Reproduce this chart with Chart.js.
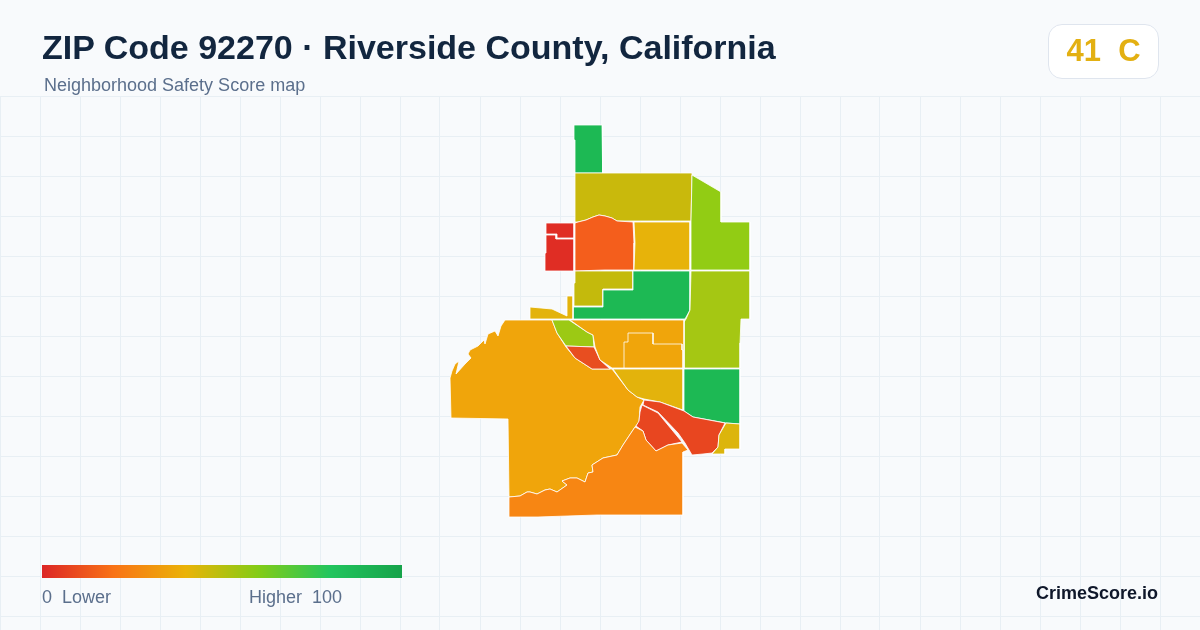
<!DOCTYPE html>
<html>
<head>
<meta charset="utf-8">
<script src="https://cdn.jsdelivr.net/npm/chart.js@4"></script>
<style>
  html, body { margin: 0; padding: 0; background: #f8fafc; }
  body { width: 1200px; height: 630px; position: relative; overflow: hidden; font-family: "Liberation Sans", Arial, sans-serif; }
  canvas { position: absolute; left: 0; top: 0; }
  .txt { position: absolute; white-space: pre; line-height: 1; }
  #title { left: 42px; top: 30px; font-size: 34px; font-weight: 700; color: #12263f; }
  #sub { left: 44px; top: 76px; font-size: 18px; color: #5b6f8c; }
  #badge { position: absolute; left: 1048px; top: 24px; width: 109px; height: 53px; background: #fff; border: 1px solid #dfe5ee; border-radius: 14px; }
  #score { left: 1048px; width: 111px; top: 35px; text-align: center; font-size: 31px; font-weight: 700; color: #e3b012; }
  #bar { position: absolute; left: 42px; top: 565px; width: 360px; height: 13px; background: linear-gradient(90deg, #dc2626 0%, #f97316 20%, #eab308 40%, #84cc16 60%, #22c55e 80%, #16a34a 100%); }
  #lo { left: 42px; top: 588px; font-size: 18px; color: #5b6f8c; }
  #hi { left: 249px; top: 588px; font-size: 18px; color: #5b6f8c; }
  #brand { right: 42px; top: 584px; font-size: 18px; font-weight: 700; color: #0f172a; }
</style>
</head>
<body>
<canvas id="map" width="1200" height="630"></canvas>
<div class="txt" id="title">ZIP Code 92270 · Riverside County, California</div>
<div class="txt" id="sub">Neighborhood Safety Score map</div>
<div id="badge"></div>
<div class="txt" id="score">41  C</div>
<div id="bar"></div>
<div class="txt" id="lo">0  Lower</div>
<div class="txt" id="hi">Higher  100</div>
<div class="txt" id="brand">CrimeScore.io</div>
<script>
  const gridCols = [0,40,80,120,160,200,240,280,320,360,400,440,480,520,560,600,640,680,720,760,800,840,880,920,960,1000,1040,1080,1120,1160,1200];
  const gridRows = [96,136,176,216,256,296,336,376,416,456,496,536,576,616];

  // tract outlines
  const northStrip = [[574,125],[602,125],[602,138],[603,138],[603,173],[575,173],[575,140],[574,140]];
  const northBlock = [[575,173],[633,173],[692,173],[691,221],[617,221],[612,218],[605,216],[599,215],[593,217],[586,220],[578,222],[575,222]];
  const eastUpper = [[692,175],[721,192],[721,222],[750,222],[750,270],[691,270],[691,221]];
  const westTop = [[546,223],[574,223],[574,238],[557,238],[557,234],[546,234]];
  const westLow = [[546,235],[556,235],[556,239],[574,239],[574,271],[545,271],[545,253],[546,253]];
  const centerWest = [[575,223],[578,222],[586,220],[593,217],[599,215],[605,216],[612,218],[617,221],[633,222],[634,243],[634,270],[605,270],[575,271]];
  const centerEast = [[634,222],[690,222],[690,270],[634,270],[635,243]];
  const midNotch = [[575,271],[633,271],[633,289],[603,289],[603,306],[574,306],[574,283],[575,283]];
  const midGreen = [[633,271],[660,271],[690,271],[690,310],[685,319],[573,319],[573,307],[603,307],[603,290],[633,290]];
  const eastMiddle = [[691,271],[750,271],[750,319],[741,319],[740,343],[740,368],[684,368],[684,322],[686,319],[690,310]];
  const eastGreen = [[684,369],[740,369],[740,424],[726,423],[693,417],[684,411]];
  const sliver = [[530,307],[552,309],[567,316],[567,296],[573,296],[573,319],[530,319]];
  const bigWest = [[505,320],[501,326],[498,336],[495,331],[488,334],[485,344],[484,340],[478,346],[470,350],[468,354],[471,358],[465,364],[456,374],[459,361],[455,364],[452,371],[450,378],[451,418],[508,419],[509,497],[520,496],[527,492],[530,492],[537,494],[545,490],[550,489],[557,492],[567,485],[562,481],[570,478],[577,478],[585,482],[588,473],[593,472],[592,465],[603,458],[617,455],[623,445],[635,427],[639,422],[640,407],[644,400],[637,397],[628,390],[612,369],[592,369],[575,358],[566,347],[557,333],[552,320]];
  const limeWedge = [[552,320],[569,320],[587,332],[593,335],[594,347],[566,346],[557,333]];
  const redWedge = [[566,346],[594,347],[600,360],[610,369],[592,369],[575,358]];
  const midOrange = [[570,320],[684,320],[684,368],[612,368],[600,360],[595,347],[593,335],[587,332]];
  const midInner = [[624,368],[624,342],[628,342],[628,333],[653,333],[653,344],[682,344],[682,350],[683,350],[683,368]];
  const goldBlock = [[613,369],[683,369],[683,410],[660,402],[644,399],[637,397],[628,390]];
  const redEast = [[644,400],[660,402],[684,411],[693,417],[725,423],[719,435],[718,447],[712,453],[703,454],[692,455],[685,443],[678,433],[658,412],[643,405]];
  const redWest = [[642,405],[658,413],[682,442],[668,445],[656,451],[646,440],[643,431],[636,426],[639,421],[640,412]];
  const southBlock = [[509,497],[520,496],[527,492],[530,492],[537,494],[545,490],[550,489],[557,492],[567,485],[562,481],[570,478],[577,478],[585,482],[588,473],[593,472],[592,465],[603,458],[617,455],[623,445],[635,427],[643,431],[646,440],[656,451],[668,445],[682,443],[688,450],[683,452],[683,515],[597,515],[538,517],[509,517]];
  const goldSouth = [[726,423],[740,424],[740,449],[725,449],[725,454],[712,454],[718,447],[719,435]];

  const shapes = [northStrip, northBlock, eastUpper, westTop, westLow, centerWest, centerEast, midNotch, midGreen, eastMiddle, eastGreen, sliver, bigWest, limeWedge, redWedge, midOrange, midInner, goldBlock, redEast, redWest, southBlock, goldSouth];
  const fills = ['#1db954','#c9b90c','#92cc14','#e02d24','#e02d24','#f45e1c','#e7b30a','#c4ba0c','#1db954','#a5c713','#1db954','#e3b30c','#f0a50b','#9cc914','#e84e20','#f0a50b','#f0a50b','#e3b30c','#e84620','#e84620','#f78613','#dcb50c'];

  const datasets = shapes.map((s, i) => ({
    data: s.concat([s[0]]).map(p => ({ x: p[0], y: p[1] })),
    order: -i,
    showLine: true,
    fill: 'shape',
    backgroundColor: fills[i],
    borderColor: '#ffffff',
    borderWidth: 0.8,
    pointRadius: 0,
    tension: 0
  }));

  const gridStyle = { color: '#e8eff4', lineWidth: 1, drawTicks: false };

  new Chart(document.getElementById('map'), {
    type: 'scatter',
    data: { datasets },
    options: {
      responsive: false,
      animation: false,
      layout: { padding: { top: 96 } },
      plugins: { legend: { display: false }, tooltip: { enabled: false } },
      scales: {
        x: {
          min: 0, max: 1200,
          grid: gridStyle,
          border: { display: false },
          ticks: { display: false },
          afterBuildTicks: a => { a.ticks = gridCols.map(v => ({ value: v })); }
        },
        y: {
          min: 96, max: 630, reverse: true,
          grid: gridStyle,
          border: { display: false },
          ticks: { display: false },
          afterBuildTicks: a => { a.ticks = gridRows.map(v => ({ value: v })); }
        }
      }
    }
  });
</script>
</body>
</html>
